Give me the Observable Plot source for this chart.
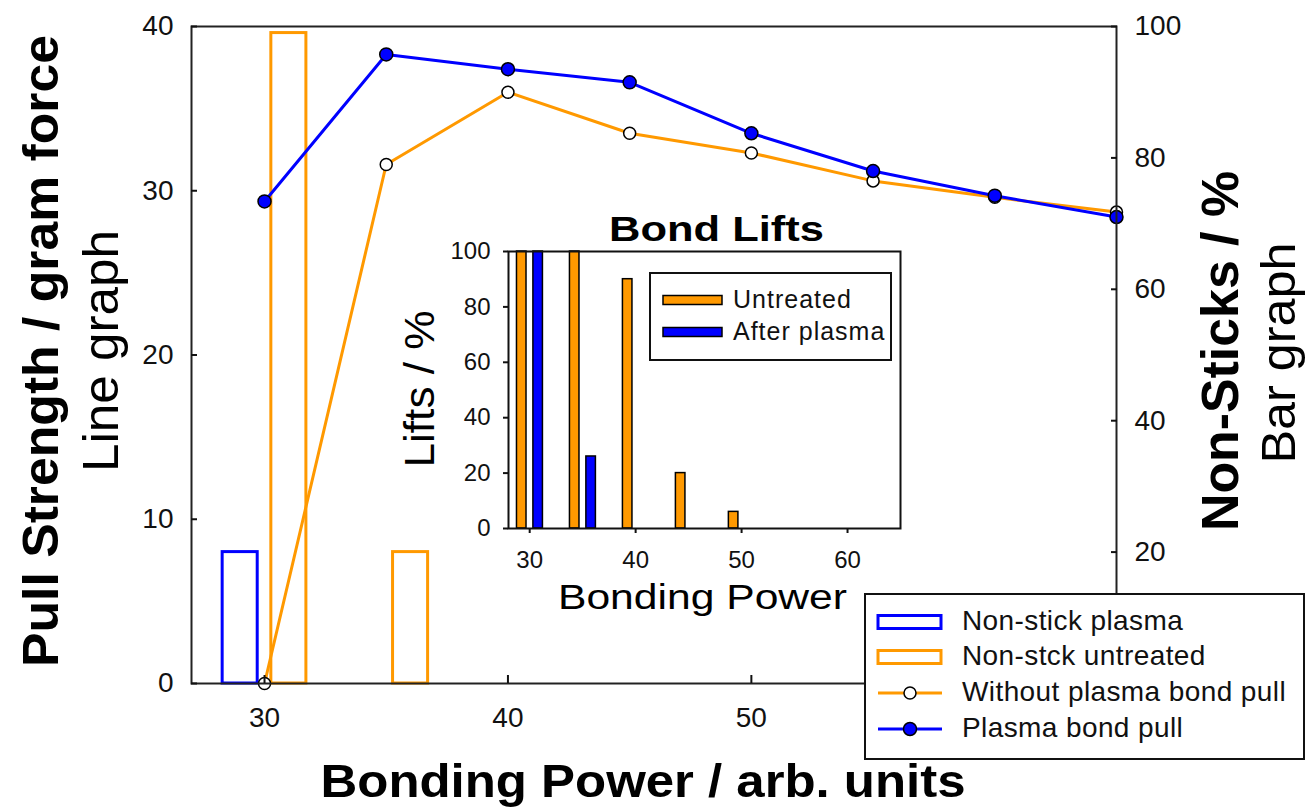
<!DOCTYPE html>
<html><head><meta charset="utf-8">
<script src="https://cdn.jsdelivr.net/npm/d3@7"></script>
<script src="https://cdn.jsdelivr.net/npm/@observablehq/plot@0.6"></script>
<style>
html,body{margin:0;padding:0;background:#fff;}
#wrap{position:relative;width:1306px;height:807px;overflow:hidden;font-family:"Liberation Sans",Arial,sans-serif;color:#111;}
#main,#inset{position:absolute;left:0;top:0;}
#inset{left:390px;top:200px;}
.legend{position:absolute;background:#fff;border:2px solid #111;box-sizing:border-box;}
.row{position:absolute;left:0;height:0;}
.row svg{position:absolute;overflow:visible;}
.row span{position:absolute;white-space:nowrap;line-height:1;transform:translateY(-52%);}
</style></head><body>
<div id="wrap"><div id="main"></div><div id="inset"></div></div>
<script>
const ORANGE = "#FF9900", BLUE = "#0000FF";

// ---- main chart data ----
const powers = [30, 35, 40, 45, 50, 55, 60, 65];
const pullUntreated = [0, 31.6, 36.0, 33.5, 32.3, 30.6, 29.6, 28.7];
const pullPlasma = [29.35, 38.3, 37.4, 36.6, 33.5, 31.2, 29.7, 28.4];
const nonStickPowers = [30, 35];
const nonStickPlasma = [20, 0];
const nonStickUntreated = [99, 20];
const pullTicks = [0, 10, 20, 30, 40];
const nonStickTicks = [20, 40, 60, 80, 100];   // 0 is hidden behind the legend
const powerTicks = [30, 40, 50];               // 60 is hidden behind the legend
const legendLabels = ["Non-stick plasma", "Non-stck untreated", "Without plasma bond pull", "Plasma bond pull"];

// ---- inset data ----
const liftPowers = [30, 35, 40, 45, 50, 55, 60, 65];
const liftsUntreated = [100, 100, 90, 20, 6, 0, 0, 0];
const liftsPlasma = [100, 26, 0, 0, 0, 0, 0, 0];
const liftTicks = [0, 20, 40, 60, 80, 100];
const liftTickX = [30, 40, 50, 60];
const insetLegendLabels = ["Untreated", "After plasma"];

// ---- derived tables ----
const pullMax = 40, nonStickMax = 100, k = pullMax / nonStickMax;
const pullRows = powers.map((p, i) => ({power: p, untreated: pullUntreated[i], plasma: pullPlasma[i]}));
const barHalf = 0.72;
const plasmaBars = nonStickPowers.map((p, i) => ({power: p - 1, v: nonStickPlasma[i]})).filter(d => d.v > 0);
const untreatedBars = nonStickPowers.map((p, i) => ({power: p + 1, v: nonStickUntreated[i]})).filter(d => d.v > 0);

const main = Plot.plot({
  width: 1306, height: 807,
  marginLeft: 191, marginRight: 190, marginTop: 26, marginBottom: 124,
  x: {domain: [27, 65]},
  y: {domain: [0, pullMax]},
  style: {fontFamily: '"Liberation Sans", Arial, sans-serif', color: "#111", background: "transparent", overflow: "visible"},
  marks: [
    Plot.rect(plasmaBars, {x1: d => d.power - barHalf, x2: d => d.power + barHalf, y1: 0, y2: d => d.v * k, fill: "none", stroke: BLUE, strokeWidth: 3}),
    Plot.rect(untreatedBars, {x1: d => d.power - barHalf, x2: d => d.power + barHalf, y1: 0, y2: d => d.v * k, fill: "none", stroke: ORANGE, strokeWidth: 3}),
    Plot.line(pullRows, {x: "power", y: "untreated", stroke: ORANGE, strokeWidth: 3}),
    Plot.line(pullRows, {x: "power", y: "plasma", stroke: BLUE, strokeWidth: 3}),
    Plot.dot(pullRows, {x: "power", y: "untreated", r: 6, fill: "white", stroke: "#000", strokeWidth: 1.5}),
    Plot.dot(pullRows, {x: "power", y: "plasma", r: 6.5, fill: BLUE, stroke: "#000", strokeWidth: 1.5}),
    Plot.frame({stroke: "#222", strokeWidth: 2}),
    Plot.axisX({ticks: powerTicks, tickSize: -8, tickPadding: 32, fontSize: 28, label: null, strokeWidth: 2}),
    Plot.axisY({anchor: "left", ticks: pullTicks, tickSize: -6, tickPadding: 24, fontSize: 28, label: null, strokeWidth: 2}),
    Plot.axisY({anchor: "right", ticks: nonStickTicks.map(v => v * k), tickFormat: d => Math.round(d / k), tickSize: -6, tickPadding: 24, fontSize: 28, label: null, strokeWidth: 2}),
    Plot.text(["Pull Strength / gram force"], {text: d => d, frameAnchor: "left", rotate: -90, dx: -150, dy: -4, fontSize: 50, fontWeight: "bold", lineAnchor: "middle", textAnchor: "middle", fill: "#000"}),
    Plot.text(["Line graph"], {text: d => d, frameAnchor: "left", rotate: -90, dx: -90, dy: -4, fontSize: 50, lineAnchor: "middle", textAnchor: "middle", fill: "#000"}),
    Plot.text(["Non-Sticks / %"], {text: d => d, frameAnchor: "right", rotate: -90, dx: 105, dy: -4, fontSize: 52, fontWeight: "bold", lineAnchor: "middle", textAnchor: "middle", fill: "#000"}),
    Plot.text(["Bar graph"], {text: d => d, frameAnchor: "right", rotate: -90, dx: 163, dy: -2, fontSize: 48, lineAnchor: "middle", textAnchor: "middle", fill: "#000"}),
    Plot.text(["Bonding Power / arb. units"], {text: d => d, frameAnchor: "bottom", dx: -11, dy: 113, fontSize: 46, fontWeight: "bold", lineAnchor: "bottom", textAnchor: "middle", fill: "#000"})
  ]
});
document.getElementById("main").appendChild(main);

const untreatedLift = liftPowers.map((p, i) => ({power: p, v: liftsUntreated[i]}));
const plasmaLift = liftPowers.map((p, i) => ({power: p, v: liftsPlasma[i]}));
const liftHalf = 0.45;
const inset = Plot.plot({
  width: 520, height: 420,
  marginLeft: 118, marginRight: 10, marginTop: 51, marginBottom: 92,
  x: {domain: [28, 65]},
  y: {domain: [0, 100]},
  style: {fontFamily: '"Liberation Sans", Arial, sans-serif', color: "#111", background: "transparent", overflow: "visible"},
  marks: [
    Plot.rect(untreatedLift, {x1: d => d.power - 0.75 - liftHalf, x2: d => d.power - 0.75 + liftHalf, y1: 0, y2: "v", fill: ORANGE, stroke: "#000", strokeWidth: 1.5}),
    Plot.rect(plasmaLift, {x1: d => d.power + 0.8 - liftHalf, x2: d => d.power + 0.8 + liftHalf, y1: 0, y2: "v", fill: BLUE, stroke: "#000", strokeWidth: 1.5}),
    Plot.frame({stroke: "#111", strokeWidth: 2}),
    Plot.axisX({ticks: liftTickX, tickSize: 5, tickPadding: 17, fontSize: 24, label: null, strokeWidth: 2}),
    Plot.axisY({ticks: liftTicks, tickSize: 5, tickPadding: 13, fontSize: 24, label: null, strokeWidth: 2}),
    Plot.text(["Bond Lifts"], {text: d => d, frameAnchor: "top", dx: 12, dy: -11, fontSize: 35, fontWeight: "bold", lineAnchor: "bottom", textAnchor: "middle", fill: "#000"}),
    Plot.text(["Lifts / %"], {text: d => d, frameAnchor: "left", rotate: -90, dx: -88, dy: -1, fontSize: 42, lineAnchor: "middle", textAnchor: "middle", fill: "#000"}),
    Plot.text(["Bonding Power"], {text: d => d, frameAnchor: "bottom", dx: -2, dy: 80, fontSize: 35, lineAnchor: "bottom", textAnchor: "middle", fill: "#000"})
  ]
});
document.getElementById("inset").appendChild(inset);

// stretch long labels to the measured lengths
const fits = {"Pull Strength / gram force": 632, "Line graph": 242, "Non-Sticks / %": 360, "Bar graph": 221,
  "Bonding Power / arb. units": 645, "Bond Lifts": 215, "Lifts / %": 157, "Bonding Power": 289};
document.querySelectorAll("#wrap svg text").forEach(t => {
  const L = fits[t.textContent];
  if (L) { t.setAttribute("textLength", L); t.setAttribute("lengthAdjust", "spacingAndGlyphs"); }
});

// ---- legends ----
const wrap = d3.select("#wrap");
const lg = wrap.append("div").attr("class", "legend")
  .style("left", "864px").style("top", "593px").style("width", "441px").style("height", "167px");
const rowY = [27, 62, 98, 134];
legendLabels.forEach((lab, i) => {
  const row = lg.append("div").attr("class", "row").style("top", rowY[i] + "px");
  const s = row.append("svg").attr("width", 70).attr("height", 20).style("left", "9px").style("top", "-10px");
  if (i < 2) {
    s.append("rect").attr("x", 3).attr("y", 3.5).attr("width", 63).attr("height", 13)
      .attr("fill", "#fff").attr("stroke", i === 0 ? BLUE : ORANGE).attr("stroke-width", 3);
  } else {
    const c = i === 2 ? ORANGE : BLUE;
    s.append("line").attr("x1", 3).attr("x2", 67).attr("y1", 10).attr("y2", 10).attr("stroke", c).attr("stroke-width", 3);
    s.append("circle").attr("cx", 35).attr("cy", 10).attr("r", i === 2 ? 6 : 6.5)
      .attr("fill", i === 2 ? "#fff" : BLUE).attr("stroke", "#000").attr("stroke-width", 1.5);
  }
  row.append("span").text(lab).style("left", "96px").style("font-size", "28px").style("letter-spacing", "0.4px");
});

const ilg = wrap.append("div").attr("class", "legend")
  .style("left", "649px").style("top", "272px").style("width", "243px").style("height", "89px");
const irowY = [26, 58];
insetLegendLabels.forEach((lab, i) => {
  const row = ilg.append("div").attr("class", "row").style("top", irowY[i] + "px");
  const s = row.append("svg").attr("width", 62).attr("height", 12).style("left", "11px").style("top", "-6px");
  s.append("rect").attr("x", 1).attr("y", 1.5).attr("width", 59).attr("height", 9)
    .attr("fill", i === 0 ? ORANGE : BLUE).attr("stroke", "#000").attr("stroke-width", 1.5);
  row.append("span").text(lab).style("left", "82px").style("font-size", "25px").style("letter-spacing", "1px");
});
</script>
</body></html>
